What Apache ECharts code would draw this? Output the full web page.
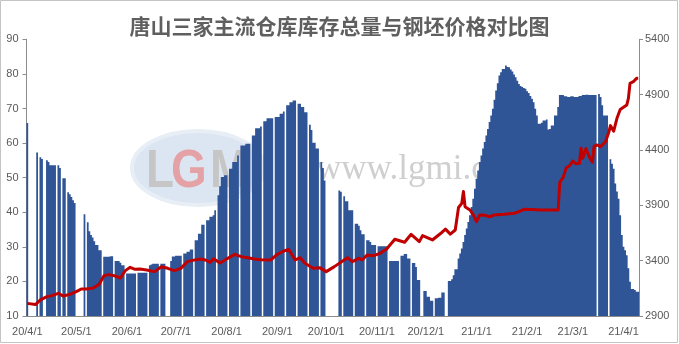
<!DOCTYPE html>
<html><head><meta charset="utf-8">
<script src="https://cdn.jsdelivr.net/npm/echarts@6/dist/echarts.min.js"></script>
<style>html,body{margin:0;padding:0;background:#fff}#c{width:679px;height:344px}</style>
</head><body><div id="c"></div>
<script>
// ---- data ----
const titleText = '唐山三家主流仓库库存总量与钢坯价格对比图';
const startDate = '2020-04-01';
const dayCount = 375; // 2020-04-01 .. 2021-04-10
const leftTicks = [10, 20, 30, 40, 50, 60, 70, 80, 90];
const rightTicks = [2900, 3400, 3900, 4400, 4900, 5400];

// daily inventory (万吨), null = no data
const inv2004 = [65.8,null,null,null,null,null,57.3,null,55.9,55.4,null,null,55.0,54.5,53.6,53.6,53.6,53.6,null,53.6,52.8,null,49.8,49.8,null,45.8,45.2,44.4,43.5,42.7];
const inv2005 = [null,null,null,null,null,39.4,null,37.1,34.5,33.4,32.7,31.6,30.5,30.5,29.0,29.0,null,27.1,27.1,27.1,27.1,27.3,27.3,null,25.9,25.9,25.9,25.4,24.7,24.7,null];
const inv2006 = [22.3,22.3,22.3,22.3,22.3,22.3,null,22.5,22.5,22.5,22.5,22.5,22.5,null,24.7,24.9,25.1,25.1,25.1,25.1,null,25.1,25.1,25.1,null,null,null,25.9,27.2,27.2];
const inv2007 = [27.4,27.4,27.4,27.4,null,28.1,28.1,28.6,28.6,29.2,29.2,null,31.9,31.9,33.8,33.8,36.4,36.4,null,37.7,37.7,38.7,38.7,39.1,40.6,null,44.9,47.5,50.2,50.2,50.7];
const inv2008 = [50.7,null,52.6,52.6,54.5,54.5,54.5,56.4,null,59.3,59.3,59.3,59.8,59.8,59.8,null,62.2,62.2,64.3,64.3,64.3,64.8,null,66.3,66.3,67.2,67.2,67.2,67.2,null,67.5];
const inv2009 = [67.5,67.5,68.5,68.5,69.1,null,70.9,70.9,71.8,71.8,72.3,72.3,null,71.4,71.4,70.4,70.4,68.9,68.9,null,65.3,63.8,60.1,60.1,58.4,58.4,null,54.5,52.8,49.2];
const inv2010 = [null,null,null,null,null,null,null,null,46.3,45.9,null,44.6,43.2,43.2,40.6,40.6,40.6,null,36.7,36.7,36.1,34.8,33.6,33.6,null,31.9,31.9,31.4,30.5,30.5,30.5];
const inv2011 = [null,30.2,30.2,30.2,30.2,30.2,30.2,null,25.9,25.9,25.9,25.9,25.9,25.9,null,27.4,27.4,27.9,27.9,26.6,26.6,null,25.3,25.3,24.2,20.4,20.4,null,null,17.2];
const inv2012 = [17.2,15.6,15.6,14.4,14.4,null,15.1,15.1,15.3,15.3,16.8,16.8,null,null,20.1,20.1,20.6,21.8,23.5,23.5,26.6,28.1,29.5,31.4,33.4,35.3,37.2,39.1,41.5,43.9,46.8];
const inv2101 = [49.7,52.1,54.5,56.4,58.4,60.3,62.2,64.1,66.1,68.0,69.9,72.5,75.2,77.3,79.5,80.5,81.4,81.4,82.4,82.0,81.9,81.3,80.7,79.8,79.0,78.0,77.1,76.5,76.2,75.9,75.7];
const inv2102 = [75.0,74.5,73.6,72.8,71.8,69.9,68.0,65.6,65.6,65.9,66.5,66.5,66.8,63.9,64.1,65.1,65.1,68.0,68.0,70.4,73.9,73.9,73.9,73.5,73.5,73.3,73.3,73.5];
const inv2103 = [73.5,73.3,73.3,73.3,73.6,73.6,73.9,73.9,74.0,74.0,73.9,73.9,73.9,73.9,73.9,null,74.2,73.3,70.9,68.0,68.0,68.0,null,55.3,54.0,52.6,48.3,46.0,43.9,39.1,33.4];
const inv2104 = [30.0,29.0,27.6,23.8,19.9,17.8,17.8,17.5,17.0,17.0];

// billet price (元/吨)
const priceDates = [
 '2020-04-01','2020-04-06','2020-04-09','2020-04-13','2020-04-16','2020-04-20','2020-04-23','2020-04-27',
 '2020-05-01','2020-05-04','2020-05-07','2020-05-11','2020-05-15','2020-05-18','2020-05-21','2020-05-25','2020-05-28','2020-05-31',
 '2020-06-03','2020-06-06','2020-06-09','2020-06-13','2020-06-18','2020-06-22','2020-06-26','2020-06-30',
 '2020-07-04','2020-07-08','2020-07-12','2020-07-16','2020-07-19','2020-07-22','2020-07-24','2020-07-28',
 '2020-08-01','2020-08-06','2020-08-10','2020-08-14','2020-08-18','2020-08-22','2020-08-28',
 '2020-09-01','2020-09-05','2020-09-08','2020-09-12','2020-09-15','2020-09-18','2020-09-23','2020-09-27',
 '2020-10-01','2020-10-06','2020-10-14','2020-10-17','2020-10-21','2020-10-23','2020-10-26','2020-10-30',
 '2020-11-03','2020-11-07','2020-11-12','2020-11-18','2020-11-22','2020-11-27','2020-11-29',
 '2020-12-05','2020-12-10','2020-12-13','2020-12-16','2020-12-19','2020-12-21','2020-12-23','2020-12-24','2020-12-25','2020-12-28','2020-12-30',
 '2021-01-01','2021-01-03','2021-01-06','2021-01-09','2021-01-12','2021-01-18','2021-01-24','2021-01-27','2021-01-30',
 '2021-02-03','2021-02-10','2021-02-15','2021-02-20','2021-02-21','2021-02-23','2021-02-25','2021-02-27',
 '2021-03-01','2021-03-03','2021-03-05','2021-03-06','2021-03-07','2021-03-09','2021-03-11','2021-03-13','2021-03-14','2021-03-16','2021-03-18','2021-03-21','2021-03-23','2021-03-24','2021-03-26','2021-03-28','2021-03-30',
 '2021-04-03','2021-04-04','2021-04-05','2021-04-07','2021-04-09','2021-04-10'];
const priceValues = [
 3014,3003,3045,3075,3084,3105,3080,3096,
 3120,3144,3144,3150,3186,3265,3274,3261,3243,3310,
 3340,3322,3325,3316,3301,3345,3331,3310,
 3330,3391,3405,3415,3406,3385,3418,3378,
 3415,3457,3436,3427,3415,3409,3406,
 3457,3487,3502,3406,3427,3376,3331,3337,
 3301,3346,3427,3391,3421,3406,3451,3445,
 3466,3505,3593,3566,3638,3572,3626,
 3587,3645,3685,3640,3677,3880,3918,4025,3888,3858,3815,
 3752,3813,3810,3797,3813,3819,3828,3843,3864,
 3862,3858,3858,3858,4110,4150,4240,4258,
 4300,4275,4280,4415,4325,4412,4340,4290,4435,4445,4430,4475,4560,4620,4570,4686,4765,
 4806,4866,5002,5017,5047,5047];

// ---- build ----
const categories = [];
{
  const t0 = Date.parse(startDate + 'T00:00:00Z');
  for (let i = 0; i < dayCount; i++) categories.push(new Date(t0 + i * 86400000).toISOString().slice(0, 10));
}
const inventory = [].concat(inv2004, inv2005, inv2006, inv2007, inv2008, inv2009, inv2010, inv2011, inv2012, inv2101, inv2102, inv2103, inv2104);
const priceData = priceDates.map((d, i) => [d, priceValues[i]]);

const isMonthStart = (i, v) => v.slice(8) === '01';
const fmtDate = v => { const p = v.split('-'); return p[0].slice(2) + '/' + (+p[1]) + '/' + (+p[2]); };

const axisColor = '#8c8c8c';
const labelStyle = { color: '#595959', fontSize: 11, fontFamily: 'Liberation Sans' };

const chart = echarts.init(document.getElementById('c'), null, { renderer: 'canvas' });
chart.setOption({
  animation: false,
  backgroundColor: '#ffffff',
  title: {
    text: titleText, left: 'center', top: 11,
    textStyle: { fontSize: 21, fontWeight: 'bold', color: '#5f5f5f', fontFamily: 'Noto Sans CJK SC' }
  },
  graphic: [
    { type: 'rect', z: 0, shape: { x: 0.5, y: 0.5, width: 677, height: 342 }, style: { fill: 'none', stroke: '#c4c4c4', lineWidth: 1 } },
    { type: 'ellipse', z: 0, shape: { cx: 198, cy: 168, rx: 66, ry: 37 }, style: { fill: '#dce6f2', stroke: '#e8eef6', lineWidth: 4 } },
    { type: 'text', z: 0, x: 146, y: 199, scaleX: 0.85, style: { text: 'L', font: 'bold 54px Liberation Sans', fill: '#c6c6c6', textVerticalAlign: 'bottom' } },
    { type: 'text', z: 0, x: 171, y: 199, scaleX: 0.85, style: { text: 'G', font: 'bold 54px Liberation Sans', fill: '#e5a2a6', textVerticalAlign: 'bottom' } },
    { type: 'text', z: 0, x: 210, y: 199, scaleX: 0.85, style: { text: 'M', font: 'bold 54px Liberation Sans', fill: '#c6c6c6', textVerticalAlign: 'bottom' } },
    { type: 'text', z: 0, x: 316, y: 152, style: { text: 'www.lgmi.com', font: '35px Liberation Serif', fill: '#cfcfcf', textVerticalAlign: 'top' } }
  ],
  grid: { left: 26.5, right: 40, top: 39.3, bottom: 28, containLabel: false },
  xAxis: {
    type: 'category', data: categories, boundaryGap: true,
    axisLine: { lineStyle: { color: axisColor, width: 1 } },
    axisTick: { interval: isMonthStart, length: 4, lineStyle: { color: axisColor } },
    axisLabel: Object.assign({ interval: isMonthStart, formatter: fmtDate, margin: 10 }, labelStyle),
    splitLine: { show: false }
  },
  yAxis: [
    {
      type: 'value', min: 10, max: 90, interval: 10, position: 'left',
      axisLine: { show: true, lineStyle: { color: axisColor } },
      axisTick: { show: true, length: 4, lineStyle: { color: axisColor } },
      axisLabel: Object.assign({ margin: 8, formatter: v => String(v) }, labelStyle),
      splitLine: { show: false }
    },
    {
      type: 'value', min: 2900, max: 5400, position: 'right',
      axisLine: { show: true, lineStyle: { color: axisColor } },
      axisTick: { show: true, length: 4, customValues: rightTicks, lineStyle: { color: axisColor } },
      axisLabel: Object.assign({ margin: 6, customValues: rightTicks, formatter: v => String(v) }, labelStyle),
      splitLine: { show: false }
    }
  ],
  series: [
    {
      name: '库存', type: 'bar', data: inventory, yAxisIndex: 0,
      large: true, largeThreshold: 50,
      barWidth: 1.75, itemStyle: { color: '#2f5597' }, z: 2
    },
    {
      name: '钢坯价格', type: 'line', data: priceData, yAxisIndex: 1,
      symbol: 'none', lineStyle: { color: '#c00000', width: 3, join: 'round' }, z: 3
    }
  ]
});
</script>
</body></html>
